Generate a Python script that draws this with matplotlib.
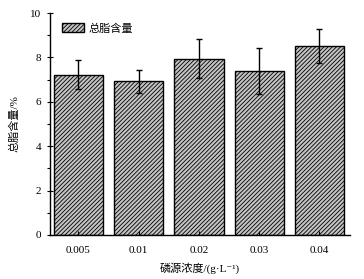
import matplotlib
matplotlib.use("Agg")
import matplotlib.pyplot as plt
from matplotlib.ticker import MultipleLocator

plt.rcParams['font.family'] = ['Liberation Serif', 'Noto Sans CJK SC', 'DejaVu Sans']
plt.rcParams['hatch.linewidth'] = 0.6

categories = ['0.005', '0.01', '0.02', '0.03', '0.04']
values = [7.23, 6.92, 7.95, 7.39, 8.50]
errors = [0.67, 0.50, 0.88, 1.03, 0.77]
legend_label = '总脂含量'
xlabel = '磷源浓度/(g·L⁻¹)'
ylabel = '总脂含量/%'

fig = plt.figure(figsize=(3.64, 2.79), dpi=100)
ax = fig.add_axes([0.137, 0.158, 0.825, 0.795])

x = list(range(len(categories)))
ax.bar(x, values, width=0.82, color='#c4c4c4', edgecolor='black',
       linewidth=1.0, hatch='////////', label=legend_label,
       yerr=errors, error_kw=dict(ecolor='black', elinewidth=1.0, capsize=2.5, capthick=1.0))

ax.set_xlim(-0.475, 4.51)
ax.set_ylim(0, 10)
ax.set_xticks(x)
ax.set_xticklabels(categories, fontsize=8)
ax.yaxis.set_major_locator(MultipleLocator(2))
ax.yaxis.set_minor_locator(MultipleLocator(1))
ax.tick_params(axis='y', which='major', direction='inout', length=5, width=0.8, labelsize=8)
ax.tick_params(axis='y', which='minor', direction='out', length=2, width=0.8)
ax.tick_params(axis='x', which='major', direction='in', length=3, width=0.8, pad=8)

for s in ['top', 'right']:
    ax.spines[s].set_visible(False)
for s in ['left', 'bottom']:
    ax.spines[s].set_linewidth(1.0)

ax.set_xlabel(xlabel, fontsize=8, labelpad=5)
ax.set_ylabel(ylabel, fontsize=8, labelpad=8)

leg = ax.legend(loc='upper left', frameon=False,
                bbox_to_anchor=(0.008, 1.0), handlelength=2.0, handleheight=0.9,
                handletextpad=0.4, prop={'family': ['Noto Sans CJK SC'], 'size': 8})

fig.savefig('out.png', dpi=100)
